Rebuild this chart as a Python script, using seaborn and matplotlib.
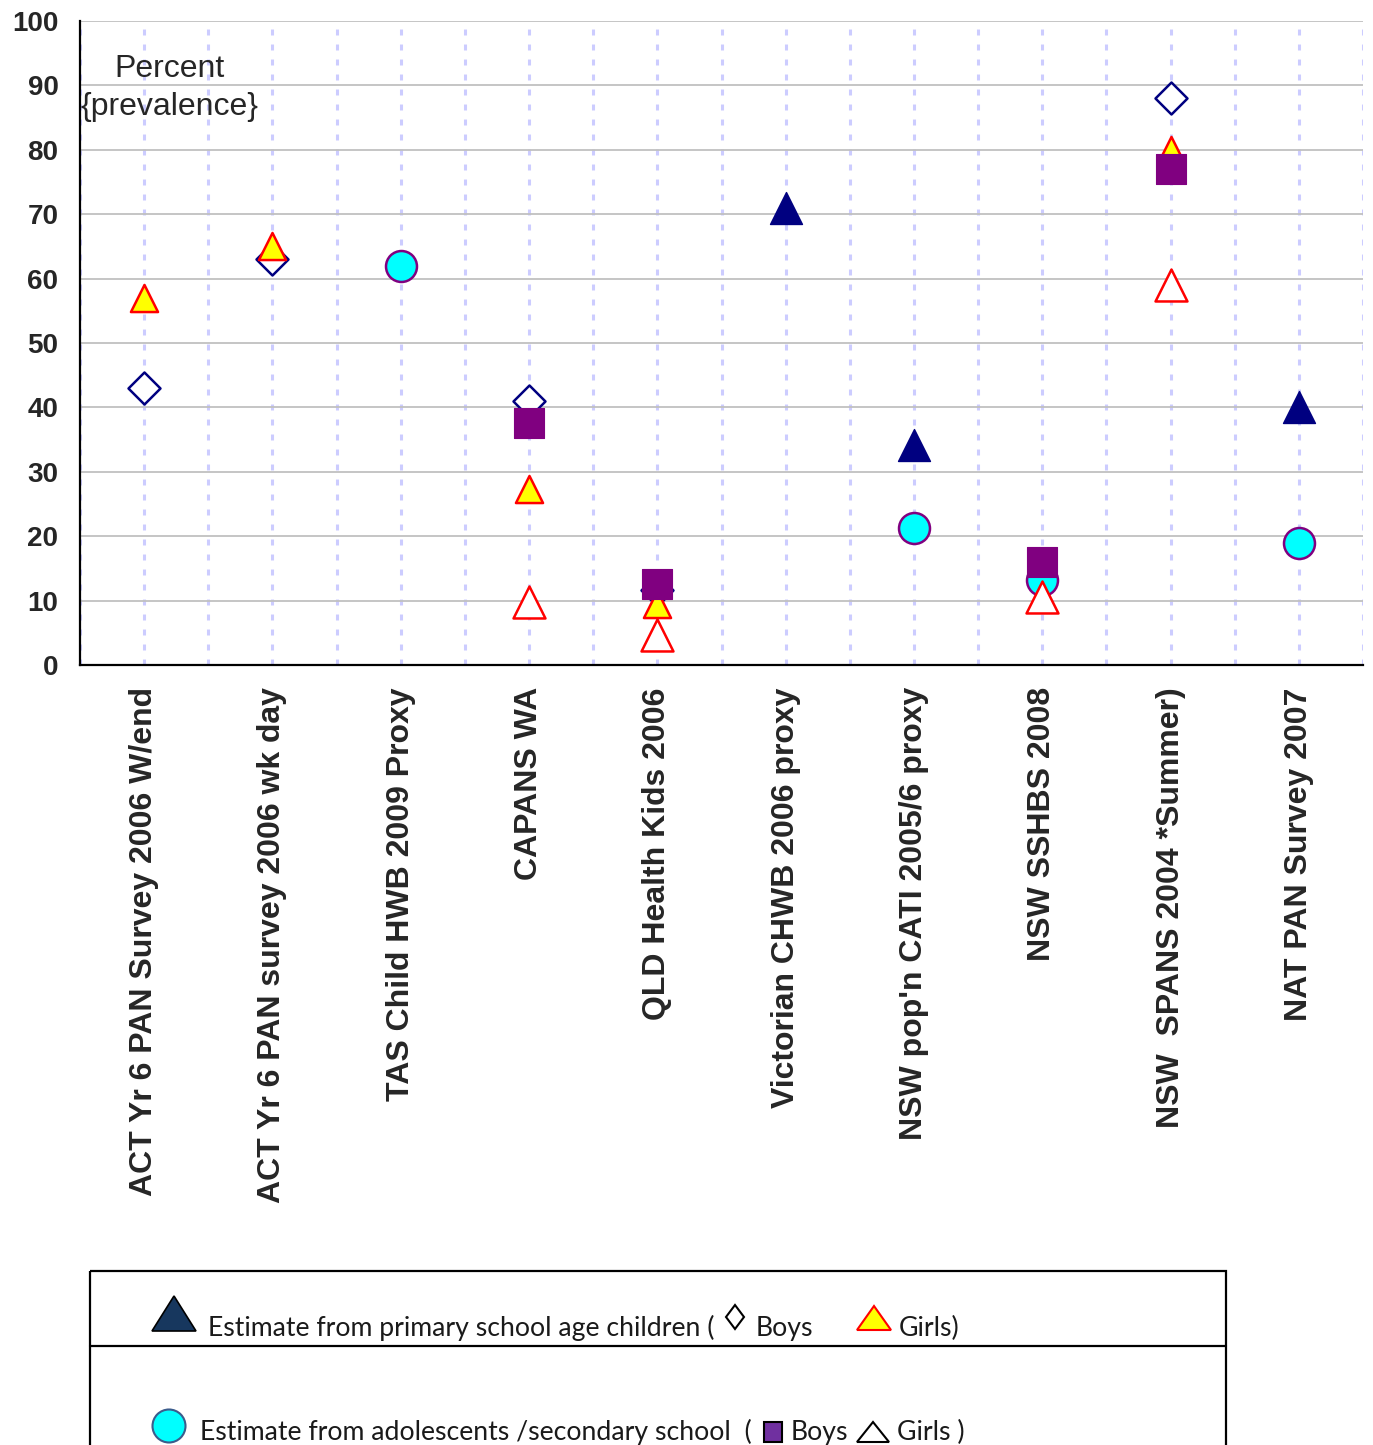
import numpy as np
import pandas as pd
import matplotlib
matplotlib.use("Agg")
import matplotlib.pyplot as plt
import seaborn as sns
from matplotlib.patches import Polygon, Rectangle, Ellipse

nan = np.nan

surveys = [
    "ACT Yr 6 PAN Survey 2006 W/end",
    "ACT Yr 6 PAN survey 2006 wk day",
    "TAS Child HWB 2009 Proxy",
    "CAPANS WA",
    "QLD Health Kids 2006",
    "Victorian CHWB 2006 proxy",
    "NSW pop'n CATI 2005/6 proxy",
    "NSW SSHBS 2008",
    "NSW  SPANS 2004 *Summer)",
    "NAT PAN Survey 2007",
]

# Prevalence (%) by survey
primary_all = [nan, nan, nan, nan, nan, 71, 34.2, nan, nan, 40]
primary_boys = [43, 63, nan, 41, 11.6, nan, nan, nan, 88, nan]
primary_girls = [57, 65, nan, 27.4, 9.5, nan, nan, nan, 80, nan]
secondary_all = [nan, nan, 62, nan, nan, nan, 21.2, 13.2, nan, 19]
secondary_boys = [nan, nan, nan, 37.5, 12.5, nan, nan, 16, 77, nan]
secondary_girls = [nan, nan, nan, 9.8, 4.7, nan, nan, 10.6, 59, nan]

y_ticks = list(range(0, 101, 10))

df = pd.DataFrame({
    "survey": surveys,
    "pos": np.arange(len(surveys)),
    "primary_all": primary_all,
    "primary_boys": primary_boys,
    "primary_girls": primary_girls,
    "secondary_all": secondary_all,
    "secondary_boys": secondary_boys,
    "secondary_girls": secondary_girls,
})

sns.set_style("white")
plt.rcParams["font.family"] = ["Liberation Sans", "DejaVu Sans"]
plt.rcParams["lines.scale_dashes"] = False

W, H = 1373, 1445
fig = plt.figure(figsize=(W / 100, H / 100), dpi=100)
ax = fig.add_axes([80 / W, 1 - 665 / H, (1363 - 80) / W, (665 - 21) / H])

# column, marker, size (pt), face, edge, edge width, zorder
styles = [
    ("primary_all", "^", 23, "#000080", "#000080", 1.0, 3),
    ("primary_boys", "D", 16.3, "white", "#000080", 1.8, 4),
    ("primary_girls", "^", 19.5, "#FFFF00", "#FF0000", 1.8, 5),
    ("secondary_all", "o", 22.3, "#00FFFF", "#800080", 1.8, 6),
    ("secondary_boys", "s", 21, "#800080", "#800080", 0.8, 7),
    ("secondary_girls", "^", 23, "white", "#FF0000", 1.8, 8),
]
for col, mk, size, face, edge, lw, z in styles:
    sns.scatterplot(data=df, x="pos", y=col, marker=mk, s=size ** 2,
                    color=face, edgecolor=edge, linewidth=lw, ax=ax,
                    zorder=z, clip_on=False, legend=False)

ax.set_xlim(-0.5, len(surveys) - 0.5)
ax.set_ylim(0, 100)
ax.set_xlabel("")
ax.set_ylabel("")

ax.set_xticks(np.arange(len(surveys)))
ax.set_xticklabels(surveys, rotation=90, fontsize=23, fontweight="bold")
ax.set_xticks(np.arange(-0.5, len(surveys), 1.0), minor=True)
ax.tick_params(axis="x", which="major", length=0, pad=16)
ax.tick_params(axis="x", which="minor", length=8, width=1.6,
               direction="out", color="black")
for lbl in ax.get_xticklabels():
    lbl.set_verticalalignment("top")

ax.set_yticks(y_ticks)
ax.set_yticklabels([str(t) for t in y_ticks], fontsize=20, fontweight="bold")
ax.tick_params(axis="y", which="major", length=8.5, width=1.5,
               direction="out", color="black", pad=7)

ax.grid(axis="y", which="major", color="#c0c0c0", lw=1.3, ls="-")
ax.grid(axis="x", which="both", color="#ccccff", lw=2.2,
        ls=(0, (4.3, 6.5)))
ax.set_axisbelow(True)

for side in ("top", "right"):
    ax.spines[side].set_visible(False)
for side in ("left", "bottom"):
    ax.spines[side].set_color("black")
    ax.spines[side].set_linewidth(1.6)
    ax.spines[side].set_zorder(10)

ax.text(0.2, 89.6, "Percent\n{prevalence}", ha="center", va="center",
        multialignment="center", fontsize=23, linespacing=1.38, zorder=2)

# Key panel below the chart
lax = fig.add_axes([0, 0, 1, 1], zorder=-1)
lax.set_xlim(0, W)
lax.set_ylim(H, 0)
lax.axis("off")
lax.add_patch(Rectangle((90, 1271), 1136, 220, fill=False,
                        edgecolor="black", lw=1.6))
lax.plot([90, 1226], [1346, 1346], color="black", lw=1.6)

key_font = dict(fontsize=19.2, family=["Lato", "DejaVu Sans"],
                color="#1a1a1a", va="baseline", ha="left")

lax.add_patch(Polygon([(152, 1331), (196, 1331), (174, 1296)],
                      closed=True, facecolor="#17375E", edgecolor="black", lw=1.2))
lax.text(208, 1336, "Estimate from primary school age children (", **key_font)
lax.add_patch(Polygon([(735, 1305), (744, 1317), (735, 1329), (726, 1317)],
                      closed=True, facecolor="white", edgecolor="black", lw=1.5))
lax.text(756, 1336, "Boys", **key_font)
lax.add_patch(Polygon([(857, 1330), (891, 1330), (874, 1306)],
                      closed=True, facecolor="#FFFF00", edgecolor="#FF0000", lw=1.5))
lax.text(899, 1336, "Girls)", **key_font)

lax.add_patch(Ellipse((169, 1426), 33, 33, facecolor="#00FFFF",
                      edgecolor="#3B5C8C", lw=1.5))
lax.text(200, 1440, "Estimate from adolescents /secondary school  (", **key_font)
lax.add_patch(Rectangle((764, 1422), 18, 20, facecolor="#7030A0",
                        edgecolor="black", lw=1.5))
lax.text(791, 1440, "Boys", **key_font)
lax.add_patch(Polygon([(857, 1442), (889, 1442), (873, 1422)],
                      closed=True, facecolor="white", edgecolor="black", lw=1.5))
lax.text(897, 1440, "Girls )", **key_font)

fig.savefig("out.png", dpi=100, facecolor="white")
